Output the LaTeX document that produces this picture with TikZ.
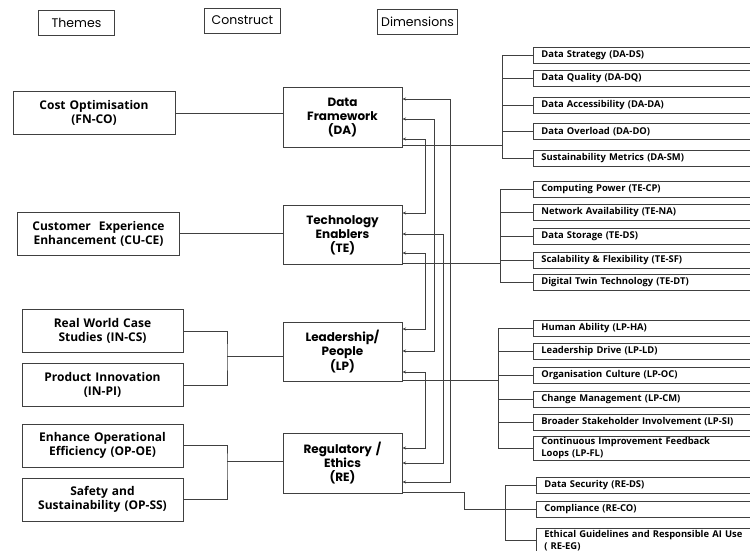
\documentclass[tikz,border=0pt]{standalone}
\usepackage{fontspec}
\setmainfont{Open Sans}
\newfontfamily\popfont{Poppins}
\usetikzlibrary{arrows.meta}

\begin{document}
\begin{tikzpicture}[x=1pt, y=-1pt,
    line width=0.8pt, draw=black!75,
    >={Stealth[length=3.5pt, width=3pt]},
    header/.style={draw, line width=0.9pt, minimum width=76pt, minimum height=25pt, font=\popfont\fontsize{12.5}{14}\selectfont},
    theme/.style={draw, line width=1pt, minimum width=162pt, minimum height=43pt, text width=152pt, align=center, font=\bfseries\fontsize{12}{14}\selectfont},
    construct/.style={draw, line width=1pt, minimum width=119pt, minimum height=59pt, text width=112pt, align=center, font=\popfont\bfseries\fontsize{12}{14}\selectfont},
    dimbox/.style={draw, line width=0.8pt, anchor=west, minimum height=16pt, text width=224pt, inner xsep=8pt, inner ysep=1pt, align=left, font=\bfseries\fontsize{9.4}{12}\selectfont}]
    \useasboundingbox (0,0) rectangle (750,551);
    \clip (0,0) rectangle (750,551);

    % headers
    \node[header] (hthemes) at (76.5,22.5) {Themes};
    \node[header] (hconstruct) at (242.5,20.5) {Construct};
    \node[header] (hdims) at (417.5,22) {Dimensions};

    % themes
    \node[theme] (co) at (94,113) {Cost Optimisation\\(FN-CO)};
    \node[theme] (ce) at (98.5,233.5) {Customer\ \ Experience\\Enhancement (CU-CE)};
    \node[theme, minimum width=161pt] (cs) at (102.5,331) {Real World Case\\Studies (IN-CS)};
    \node[theme, minimum width=161pt] (pi) at (102.5,385) {Product Innovation\\(IN-PI)};
    \node[theme, minimum width=161pt] (oe) at (102.5,445.5) {Enhance Operational\\Efficiency (OP-OE)};
    \node[theme, minimum width=161pt] (ss) at (102.5,499.5) {Safety and\\Sustainability (OP-SS)};

    % constructs
    \node[construct] (da) at (342.5,117.5) {Data\\Framework\\(DA)};
    \node[construct] (te) at (342.5,235) {Technology\\Enablers\\(TE)};
    \node[construct] (lp) at (342.5,351.5) {Leadership/\\People\\(LP)};
    \node[construct, minimum height=60pt] (re) at (342.5,463) {Regulatory /\\Ethics\\(RE)};

    % dimensions
    \node[dimbox] (dads) at (533,55) {Data Strategy (DA-DS)};
    \node[dimbox] (dadq) at (533,78) {Data Quality (DA-DQ)};
    \node[dimbox] (dada) at (533,105) {Data Accessibility (DA-DA)};
    \node[dimbox] (dado) at (533,131.5) {Data Overload (DA-DO)};
    \node[dimbox] (dasm) at (533,158.5) {Sustainability Metrics (DA-SM)};

    \node[dimbox] (tecp) at (533,189) {Computing Power (TE-CP)};
    \node[dimbox] (tena) at (533,212.5) {Network Availability (TE-NA)};
    \node[dimbox] (teds) at (533,236) {Data Storage (TE-DS)};
    \node[dimbox] (tesf) at (533,260) {Scalability \& Flexibility (TE-SF)};
    \node[dimbox] (tedt) at (533,282.5) {Digital Twin Technology (TE-DT)};

    \node[dimbox] (lpha) at (533,328.5) {Human Ability (LP-HA)};
    \node[dimbox] (lpld) at (533,351.5) {Leadership Drive (LP-LD)};
    \node[dimbox] (lpoc) at (533,375.5) {Organisation Culture (LP-OC)};
    \node[dimbox] (lpcm) at (533,399.5) {Change Management (LP-CM)};
    \node[dimbox] (lpsi) at (533,422) {Broader Stakeholder Involvement (LP-SI)};
    \node[dimbox, minimum height=23pt] (lpfl) at (533,448.5) {Continuous Improvement Feedback\\Loops (LP-FL)};

    \node[dimbox] (reds) at (536,485) {Data Security (RE-DS)};
    \node[dimbox] (reco) at (536,509) {Compliance (RE-CO)};
    \node[dimbox, minimum height=25pt] (reeg) at (536,540.5) {Ethical Guidelines and Responsible AI Use\\( RE-EG)};

    % themes to constructs
    \draw (co.east) -- (co.east -| da.west);
    \draw (ce.east) -- (ce.east -| te.west);
    \coordinate (j1) at (227,356);
    \coordinate (j2) at (227,461);
    \draw (cs.east) -| (j1) |- (pi.east);
    \draw (j1) -- (j1 -| lp.west);
    \draw (oe.east) -| (j2) |- (ss.east);
    \draw (j2) -- (j2 -| re.west);

    % links between constructs
    \foreach \a/\ya/\xa/\b/\yb in {da/139/425/te/213, da/119/434/lp/351, da/99/450/re/482,
        te/234/443/re/463, te/253/425/lp/329, lp/372/425/re/448}
        \draw[<->] (\a.east |- 0,\ya) -| (\xa,\yb) -- (\b.east |- 0,\yb);

    % constructs to dimensions
    \draw (da.east |- 0,145) -- (502,145);
    \draw (dads.west) -| (502,0 |- dasm.west) -- (dasm.west);
    \foreach \d in {dadq, dada, dado}
        \draw (\d.west) -- (\d.west -| 502,0);

    \draw (te.east |- 0,263) -- (500,263);
    \draw (tecp.west) -| (500,0 |- tedt.west) -- (tedt.west);
    \foreach \d in {tena, teds, tesf}
        \draw (\d.west) -- (\d.west -| 500,0);

    \draw (lp.east |- 0,380) -- (498,380);
    \draw (lpha.west) -| (498,0 |- lpfl.west) -- (lpfl.west);
    \foreach \d in {lpld, lpoc, lpcm, lpsi}
        \draw (\d.west) -- (\d.west -| 498,0);

    \draw (re.east |- 0,492) -| (464,509) -- (reco.west);
    \draw (reds.west) -| (505,0 |- reeg.west) -- (reeg.west);
\end{tikzpicture}
\end{document}
